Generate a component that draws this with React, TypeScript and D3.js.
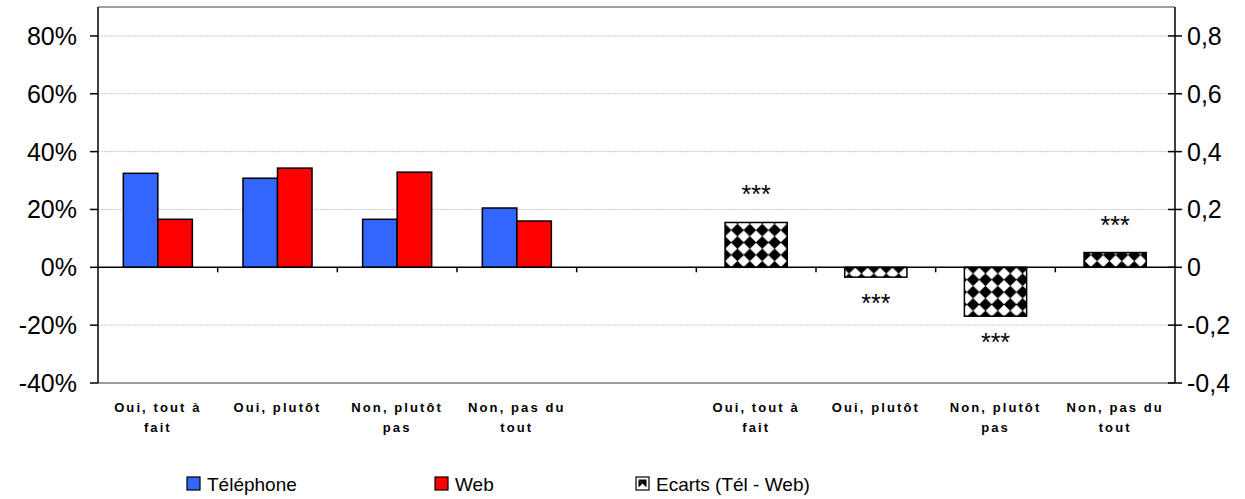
import React from "react";
import * as d3 from "d3";

const categories = ["Oui, tout à fait", "Oui, plutôt", "Non, plutôt pas", "Non, pas du tout"];
const telephone = [0.325, 0.308, 0.166, 0.205];
const web = [0.166, 0.343, 0.329, 0.16];
const ecarts = [0.155, -0.034, -0.169, 0.051];
const signif = ["***", "***", "***", "***"];
const leftTicks = [-0.4, -0.2, 0, 0.2, 0.4, 0.6, 0.8];
const leftTickLabels = ["-40%", "-20%", "0%", "20%", "40%", "60%", "80%"];
const rightTickLabels = ["-0,4", "-0,2", "0", "0,2", "0,4", "0,6", "0,8"];
const seriesNames = ["Téléphone", "Web", "Ecarts (Tél - Web)"];

const W = 1245;
const H = 499;
const L = 98;
const R = 1175;
const T = 7;
const B = 383;
const FONT = "Arial, 'Liberation Sans', sans-serif";

function wrap(s: string, max: number): string[] {
  const words = s.split(" ");
  const lines: string[] = [];
  let cur = "";
  for (const w of words) {
    const cand = cur ? cur + " " + w : w;
    if (cand.length > max && cur) {
      lines.push(cur);
      cur = w;
    } else cur = cand;
  }
  if (cur) lines.push(cur);
  return lines;
}

export default function App() {
  const slots = d3.range(9);
  const x0 = d3.scaleBand<number>().domain(slots).range([L, R]).padding(0);
  const bw = x0.bandwidth();
  const groupW = bw * 0.577;
  const x1 = d3
    .scaleBand<string>()
    .domain(["tel", "web"])
    .range([(bw - groupW) / 2, (bw + groupW) / 2])
    .padding(0);
  const secW = bw * 0.52;
  const y = d3.scaleLinear().domain([-0.4, 0.9]).range([B, T]);
  const y2 = d3.scaleLinear().domain([-0.4, 0.9]).range([B, T]);
  const y0 = y(0);

  const primSlots = categories.map((_, i) => i);
  const secSlots = categories.map((_, i) => i + 5);
  const allLabels = [...categories.map((c, i) => ({ c, s: i })), ...categories.map((c, i) => ({ c, s: i + 5 }))];

  const colors = { tel: "#3366FF", web: "#FF0000" };
  const P = 12.4;

  return (
    <svg
      width={W}
      height={H}
      style={{ position: "absolute", left: 0, top: 0, background: "#fff" }}
      fontFamily={FONT}
    >
      <defs>
        <pattern id="diam" patternUnits="userSpaceOnUse" width={P} height={P} x={x0(5)! + (bw - secW) / 2 - P / 2} y={y0 - P / 2}>
          <rect width={P} height={P} fill="#fff" />
          <path d={`M${P / 2},-0.2 L${P + 0.2},${P / 2} L${P / 2},${P + 0.2} L-0.2,${P / 2} Z`} fill="#000" />
          <circle cx={0} cy={0} r={3.1} fill="#fff" />
          <circle cx={P} cy={0} r={3.1} fill="#fff" />
          <circle cx={0} cy={P} r={3.1} fill="#fff" />
          <circle cx={P} cy={P} r={3.1} fill="#fff" />
        </pattern>
      </defs>
      <rect x={0} y={0} width={W} height={H} fill="#fff" />

      {/* gridlines */}
      {leftTicks
        .filter((t) => t !== 0)
        .map((t) => (
          <line key={"g" + t} x1={L} x2={R} y1={y(t)} y2={y(t)} stroke="#c8c8c8" strokeDasharray="2,1" strokeWidth={1} />
        ))}

      {/* frame */}
      <line x1={L} x2={R} y1={T} y2={T} stroke="#808080" strokeWidth={1.5} />
      <line x1={L} x2={R} y1={B} y2={B} stroke="#808080" strokeWidth={1.5} />

      {/* primary bars */}
      {primSlots.map((s, i) => (
        <g key={"p" + i}>
          <rect
            x={x0(s)! + x1("tel")!}
            y={y(Math.max(0, telephone[i]))}
            width={x1.bandwidth()}
            height={Math.abs(y(telephone[i]) - y0)}
            fill={colors.tel}
            stroke="#000"
            strokeWidth={1.5}
          />
          <rect
            x={x0(s)! + x1("web")!}
            y={y(Math.max(0, web[i]))}
            width={x1.bandwidth()}
            height={Math.abs(y(web[i]) - y0)}
            fill={colors.web}
            stroke="#000"
            strokeWidth={1.5}
          />
        </g>
      ))}

      {/* secondary bars */}
      {secSlots.map((s, i) => {
        const v = ecarts[i];
        const top = y2(Math.max(0, v));
        const bot = y2(Math.min(0, v));
        const cx = x0(s)! + bw / 2;
        return (
          <g key={"s" + i}>
            <rect x={cx - secW / 2} y={top} width={secW} height={bot - top} fill="url(#diam)" stroke="#000" strokeWidth={1.5} />
            <text
              x={cx}
              y={v >= 0 ? top - 19 : bot + 35}
              textAnchor="middle"
              fontSize={25}
              fill="#000"
            >
              {signif[i]}
            </text>
          </g>
        );
      })}

      {/* zero axis */}
      <line x1={L} x2={R} y1={y0} y2={y0} stroke="#000" strokeWidth={1.5} />
      {slots.slice(1).map((s) => (
        <line key={"ct" + s} x1={x0(s)!} x2={x0(s)!} y1={y0} y2={y0 + 5} stroke="#000" strokeWidth={1.5} />
      ))}

      {/* left axis */}
      <line x1={L} x2={L} y1={T} y2={B} stroke="#000" strokeWidth={1.5} />
      {leftTicks.map((t, i) => (
        <g key={"lt" + i}>
          <line x1={L - 8} x2={L} y1={y(t)} y2={y(t)} stroke="#000" strokeWidth={1.5} />
          <text x={77} y={y(t)} dy="0.36em" textAnchor="end" fontSize={25} fill="#000">
            {leftTickLabels[i]}
          </text>
        </g>
      ))}

      {/* right axis */}
      <line x1={R} x2={R} y1={T} y2={B} stroke="#000" strokeWidth={1.5} />
      {leftTicks.map((t, i) => (
        <g key={"rt" + i}>
          <line x1={R - 7} x2={R + 7} y1={y2(t)} y2={y2(t)} stroke="#000" strokeWidth={1.5} />
          <text x={R + 12} y={y2(t)} dy="0.36em" textAnchor="start" fontSize={25} fill="#000">
            {rightTickLabels[i]}
          </text>
        </g>
      ))}

      {/* category labels */}
      {allLabels.map(({ c, s }) => {
        const lines = wrap(c, 11);
        const cx = x0(s)! + bw / 2;
        return (
          <text key={"cl" + s} x={cx} y={412} textAnchor="middle" fontSize={13} fontWeight="bold" letterSpacing={2.1} fill="#000">
            {lines.map((ln, j) => (
              <tspan key={j} x={cx} dy={j === 0 ? 0 : 20}>
                {ln}
              </tspan>
            ))}
          </text>
        );
      })}

      {/* legend */}
      {[
        { x: 187, fill: colors.tel, name: seriesNames[0] },
        { x: 435, fill: colors.web, name: seriesNames[1] },
        { x: 636, fill: "#fff", name: seriesNames[2] },
      ].map((d, i) => (
        <g key={"lg" + i}>
          <rect x={d.x} y={477} width={13} height={13} fill={d.fill} stroke="#000" strokeWidth={1.2} />
          {i === 2 && (
            <g>
              <path d={`M${d.x + 2.5},479.5 L${d.x + 10.5},479.5 L${d.x + 10.5},487.5 Z`} fill="#000" />
              <path d={`M${d.x + 2.5},479.5 L${d.x + 6.5},483.5 L${d.x + 2.5},487.5 Z`} fill="#000" />
            </g>
          )}
          <text x={d.x + 20} y={491} fontSize={19} fill="#000">
            {d.name}
          </text>
        </g>
      ))}
    </svg>
  );
}
